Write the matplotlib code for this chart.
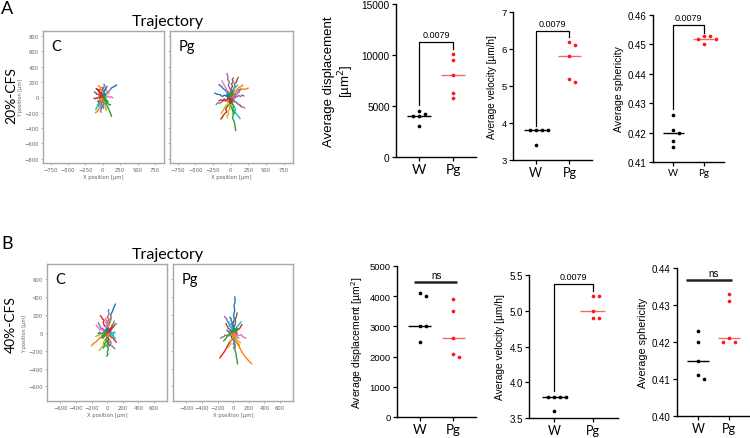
import numpy as np
import matplotlib
matplotlib.use('Agg')
import matplotlib.pyplot as plt

# ---------------- data ----------------
groups = ['W', 'Pg']

# Row A (20%-CFS)
A_disp_W = [4500, 4250, 4000, 4000, 3000]
A_disp_Pg = [10100, 9500, 8000, 6300, 5750]
A_vel_W = [3.8, 3.8, 3.8, 3.8, 3.4]
A_vel_Pg = [6.2, 6.1, 5.8, 5.2, 5.1]
A_sph_W = [0.426, 0.421, 0.420, 0.417, 0.415]
A_sph_Pg = [0.453, 0.453, 0.452, 0.452, 0.450]

# Row B (40%-CFS)
B_disp_W = [4100, 4000, 3000, 3000, 2500]
B_disp_Pg = [3900, 3500, 2600, 2100, 2000]
B_vel_W = [3.8, 3.8, 3.8, 3.8, 3.6]
B_vel_Pg = [5.2, 5.2, 5.0, 4.9, 4.9]
B_sph_W = [0.423, 0.420, 0.415, 0.411, 0.410]
B_sph_Pg = [0.433, 0.431, 0.421, 0.420, 0.420]

p_text = ['0.0079', '0.0079', '0.0079', 'ns', '0.0079', 'ns']

# trajectories (x list, y list) in µm
traj_A_C = [
    ([0, 20, 10, 45, 60, 95, 120, 160, 195], [0, -15, 20, 35, 70, 85, 120, 140, 160]),
    ([0, -20, 5, -25, -40, -30, -60, -80, -105], [0, -25, -50, -70, -105, -130, -150, -185, -200]),
    ([0, 25, 15, 45, 60, 80, 95, 110, 125], [0, -20, -55, -80, -110, -140, -175, -210, -245]),
    ([0, -25, -10, -40, -55, -45, -70, -90, -95], [0, 15, 40, 50, 75, 95, 100, 115, 110]),
    ([0, 15, -5, 10, 25, 5, 20, 30, 15], [0, 25, 50, 70, 100, 120, 140, 155, 170]),
    ([0, -25, -15, -45, -60, -75, -90, -110, -125], [0, 10, -15, -5, 5, -15, -5, -20, -10]),
    ([0, 30, 45, 35, 60, 80, 100, 125, 140], [0, -10, 10, 25, 5, 15, -5, 10, -5]),
    ([0, -15, 5, -20, -10, -30, -15, -35, -25], [0, -30, -55, -80, -105, -125, -145, -170, -190]),
    ([0, 20, 5, 30, 20, 45, 35, 55, 45], [0, -25, -45, -60, -90, -110, -135, -150, -170]),
    ([0, -20, -35, -25, -55, -70, -60, -90, -100], [0, -20, -35, -60, -70, -95, -115, -130, -160]),
    ([0, -10, 15, 25, 10, 35, 50, 40, 60], [0, 20, 35, 55, 75, 90, 105, 125, 140]),
    ([0, 15, -10, -25, -15, -40, -30, -50, -60], [0, 25, 40, 60, 85, 100, 125, 140, 150]),
    ([0, 25, 20, 45, 60, 55, 80, 95, 110], [0, -20, -40, -35, -60, -80, -85, -100, -95]),
    ([0, -20, -5, -30, -45, -35, -55, -70, -60], [0, 15, -10, -25, -15, -40, -55, -45, -65]),
    ([0, 15, -10, 5, 20, 0, 15, -5, 10], [0, -25, -40, -65, -80, -100, -115, -125, -140]),
    ([0, -25, -40, -35, -60, -75, -90, -100, -120], [0, 15, 30, 10, 35, 45, 40, 60, 70]),
    ([0, 20, 40, 35, 55, 75, 90, 100, 115], [0, 25, 20, 45, 60, 55, 75, 90, 105]),
    ([0, -15, 10, -5, 15, 0, -15, 5, -10], [0, 20, 35, 55, 70, 90, 100, 115, 130]),
    ([0, 25, 10, 35, 45, 30, 55, 70, 85], [0, -15, 15, 25, 10, 35, 45, 40, 55]),
    ([0, -25, -15, -40, -30, -55, -50, -70, -80], [0, -15, -35, -45, -65, -75, -95, -105, -100]),
    ([0, 15, -5, 20, 5, 30, 15, 35, 30], [0, -10, 10, 25, 0, 20, 40, 25, 45]),
    ([0, -15, 5, -10, -30, -20, -40, -25, -45], [0, -20, -5, -30, -15, -40, -25, -50, -40]),
    ([0, 20, 35, 15, 40, 55, 40, 65, 75], [0, 15, -5, -25, -15, -35, -55, -45, -60]),
    ([0, -20, -10, -35, -20, -45, -60, -50, -70], [0, 10, 35, 45, 65, 60, 80, 95, 90]),
]

traj_A_Pg = [
    ([0, -30, -20, -60, -90, -120, -150, -190, -225], [0, 20, -10, 15, 30, 10, 35, 40, 55]),
    ([0, 35, 25, 65, 90, 130, 160, 200, 245], [0, 15, 45, 55, 80, 90, 110, 105, 120]),
    ([0, 15, -5, 20, 35, 25, 50, 60, 70], [0, -50, -100, -150, -210, -270, -320, -380, -430]),
    ([0, -25, -10, -45, -70, -60, -95, -120, -140], [0, -40, -80, -110, -150, -190, -220, -260, -280]),
    ([0, -20, 5, -15, -35, -20, -45, -40, -55], [0, 40, 80, 120, 160, 200, 235, 270, 310]),
    ([0, 25, 15, 40, 60, 50, 80, 90, 105], [0, 35, 70, 110, 140, 175, 200, 235, 260]),
    ([0, 40, 30, 70, 100, 130, 150, 175, 200], [0, -25, -50, -60, -85, -95, -120, -125, -140]),
    ([0, -40, -25, -70, -100, -130, -150, -180, -205], [0, -15, -40, -50, -35, -60, -75, -70, -90]),
    ([0, -20, 5, -25, -10, -40, -30, -55, -45], [0, -35, -75, -110, -150, -185, -215, -240, -265]),
    ([0, 30, 15, 45, 65, 55, 85, 110, 130], [0, -40, -80, -120, -155, -190, -220, -250, -275]),
    ([0, -35, -20, -55, -85, -110, -125, -145, -165], [0, 25, 55, 70, 100, 115, 135, 150, 165]),
    ([0, 25, 45, 35, 70, 100, 120, 150, 170], [0, 35, 50, 75, 90, 115, 130, 145, 160]),
    ([0, 25, 5, 30, 45, 20, 40, 55, 50], [0, -30, -55, -90, -120, -140, -170, -190, -210]),
    ([0, -25, -45, -35, -70, -95, -110, -140, -165], [0, -20, 5, -15, -35, -20, -45, -30, -45]),
    ([0, 35, 60, 50, 85, 115, 140, 160, 185], [0, 15, -10, 20, 5, 25, 10, 30, 20]),
    ([0, -15, 15, 0, 25, 10, 35, 20, 35], [0, 35, 70, 110, 140, 175, 205, 230, 250]),
    ([0, -30, -20, -55, -70, -90, -100, -115, -125], [0, 35, 65, 90, 125, 150, 175, 195, 215]),
    ([0, 25, 50, 40, 75, 100, 115, 135, 155], [0, -20, -35, -55, -60, -85, -95, -110, -125]),
    ([0, -20, -45, -35, -65, -90, -100, -120, -135], [0, -30, -55, -85, -105, -135, -160, -185, -210]),
    ([0, 15, -5, 25, 45, 35, 60, 75, 95], [0, 25, 50, 65, 90, 110, 125, 140, 155]),
    ([0, -25, -5, -35, -15, -45, -30, -60, -50], [0, -20, 15, 0, 30, 10, 40, 20, 50]),
    ([0, 25, 5, 35, 15, 45, 30, 60, 55], [0, -25, 5, -15, 20, -5, 25, 5, 35]),
    ([0, -20, 10, -10, 20, -5, 25, 10, 35], [0, 30, 10, 45, 25, 60, 40, 75, 55]),
    ([0, 20, -10, 15, -15, 10, -20, 5, -25], [0, -30, -10, -45, -25, -60, -40, -75, -55]),
    ([0, 30, 60, 45, 80, 95, 120, 110, 140], [0, -10, 15, 40, 30, 55, 70, 95, 110]),
]

traj_B_C = [
    ([0, 20, 5, 35, 50, 45, 70, 85, 105], [0, 40, 80, 115, 160, 200, 245, 285, 320]),
    ([0, -30, -55, -50, -90, -120, -140, -175, -200], [0, -20, 5, -30, -55, -80, -100, -120, -145]),
    ([0, 15, -10, 5, -5, 15, 0, 10, -5], [0, -35, -70, -110, -145, -180, -215, -240, -260]),
    ([0, -20, -5, -35, -50, -40, -65, -75, -85], [0, 25, 55, 80, 110, 140, 160, 180, 190]),
    ([0, -15, 10, -5, 20, 5, 25, 15, 20], [0, 35, 70, 110, 145, 180, 215, 240, 255]),
    ([0, 30, 20, 50, 70, 65, 90, 100, 115], [0, 20, 45, 40, 65, 80, 75, 95, 100]),
    ([0, -25, -45, -40, -70, -95, -110, -125, -140], [0, 15, -5, 25, 35, 30, 55, 70, 85]),
    ([0, 20, 5, 35, 50, 40, 65, 80, 95], [0, -30, -55, -85, -110, -135, -150, -165, -175]),
    ([0, -20, -5, -35, -50, -45, -70, -85, -100], [0, -30, -60, -85, -115, -140, -160, -180, -195]),
    ([0, 25, 15, 40, 60, 55, 75, 90, 100], [0, 15, -10, 5, -15, 5, -10, 10, 0]),
    ([0, -25, -15, -45, -60, -55, -80, -95, -115], [0, -15, 10, -5, -20, 0, -15, 5, -10]),
    ([0, 15, -5, 25, 15, 40, 30, 50, 45], [0, 30, 55, 80, 110, 130, 150, 165, 180]),
    ([0, -15, 5, -20, -10, -35, -25, -45, -50], [0, -25, -50, -75, -100, -120, -145, -160, -170]),
    ([0, 25, 40, 35, 60, 75, 85, 100, 115], [0, -20, -10, -35, -55, -50, -75, -90, -105]),
    ([0, -25, -40, -35, -60, -75, -90, -100, -115], [0, 20, 5, 30, 50, 45, 70, 90, 110]),
    ([0, 15, 0, 20, 5, 25, 10, 30, 20], [0, -25, -45, -70, -90, -110, -125, -140, -150]),
    ([0, -15, 5, -15, 0, -20, -5, -25, -15], [0, 25, 50, 70, 95, 115, 135, 150, 165]),
    ([0, 20, 40, 30, 55, 70, 60, 80, 90], [0, 25, 10, 40, 60, 55, 85, 105, 130]),
    ([0, -30, -20, -50, -70, -90, -110, -125, -145], [0, -15, 10, -10, -25, -15, -35, -30, -40]),
    ([0, 25, 45, 40, 65, 80, 75, 95, 105], [0, -10, 10, -15, -30, -20, -45, -50, -65]),
    ([0, -20, 5, -15, 10, -10, 15, -5, 20], [0, 20, 0, 30, 10, 40, 20, 50, 35]),
    ([0, 20, -5, 15, -10, 10, -15, 5, -20], [0, -20, 5, -25, 0, -35, -10, -45, -20]),
    ([0, -15, -35, -20, -45, -35, -60, -50, -70], [0, -20, 0, -30, -15, -45, -30, -60, -55]),
    ([0, 15, 35, 25, 50, 40, 60, 55, 75], [0, 20, 5, 35, 25, 50, 40, 65, 60]),
]

traj_B_Pg = [
    ([0, 10, -5, 15, 5, 20, 10, 25, 20], [0, 50, 100, 150, 200, 250, 300, 350, 400]),
    ([0, 30, 20, 60, 90, 120, 155, 195, 235], [0, -40, -85, -130, -180, -225, -270, -310, -345]),
    ([0, 15, 5, 25, 20, 35, 40, 50, 55], [0, -45, -90, -135, -185, -230, -270, -310, -345]),
    ([0, -25, -15, -50, -75, -95, -120, -150, -170], [0, -35, -70, -110, -150, -185, -220, -255, -280]),
    ([0, -20, -10, -40, -55, -70, -80, -95, -110], [0, 25, 50, 70, 100, 120, 145, 165, 180]),
    ([0, 15, 5, 25, 30, 25, 40, 45, 50], [0, 30, 60, 90, 120, 150, 175, 200, 220]),
    ([0, 30, 50, 45, 80, 105, 120, 145, 160], [0, -15, 5, -20, -30, -20, -45, -50, -60]),
    ([0, -30, -50, -45, -80, -105, -120, -145, -160], [0, 15, -5, -15, -30, -25, -45, -50, -60]),
    ([0, -15, 5, -20, -35, -30, -50, -60, -75], [0, -25, -50, -75, -100, -125, -145, -160, -170]),
    ([0, 20, 10, 35, 50, 70, 75, 90, 100], [0, 20, 40, 45, 70, 85, 95, 110, 120]),
    ([0, -10, 10, -5, -20, -10, -30, -25, -40], [0, 20, 45, 70, 95, 115, 140, 155, 170]),
    ([0, 20, 5, 30, 45, 40, 60, 70, 80], [0, -20, -45, -65, -85, -105, -120, -130, -140]),
    ([0, -25, -40, -35, -60, -80, -90, -105, -120], [0, -10, 10, -20, -35, -40, -60, -75, -90]),
    ([0, 25, 40, 35, 60, 80, 90, 100, 110], [0, 10, -10, 20, 35, 45, 60, 75, 90]),
    ([0, -10, 10, -5, 15, 0, 20, 5, 15], [0, -25, -50, -75, -100, -125, -145, -165, -180]),
    ([0, -20, -35, -30, -50, -65, -70, -85, -90], [0, 15, 0, 25, 45, 50, 70, 85, 100]),
    ([0, 15, 30, 20, 40, 55, 50, 65, 70], [0, -15, 5, -20, -35, -30, -50, -55, -60]),
    ([0, -15, -30, -20, -45, -55, -65, -75, -80], [0, -15, 5, -10, 15, 5, 25, 20, 30]),
    ([0, 15, 5, 30, 45, 40, 60, 75, 90], [0, -20, -40, -50, -70, -85, -90, -100, -110]),
    ([0, -10, -25, -15, -35, -45, -40, -55, -55], [0, 20, 35, 55, 70, 85, 100, 110, 120]),
    ([0, 20, -5, 15, -10, 10, -15, 5, -20], [0, 15, -10, 20, -5, 25, 0, 30, 10]),
    ([0, -20, 5, -15, 10, -10, 15, -5, 15], [0, -20, 5, -25, 0, -30, -5, -35, -15]),
    ([0, 15, 35, 20, 45, 30, 55, 40, 60], [0, 25, 10, 35, 20, 45, 30, 55, 45]),
]

# ---------------- figure ----------------
W_PX, H_PX = 750, 439
fig = plt.figure(figsize=(7.5, 4.39), dpi=100)

NUM_FONT = 'Liberation Sans'
TXT_FONT = 'Lato'
RED = '#ff1a1a'
RED_LINE = '#f26b6b'


def add_ax(l, t, r, b):
    return fig.add_axes([l / W_PX, 1 - b / H_PX, (r - l) / W_PX, (b - t) / H_PX])


def traj_panel(l, t, r, b, tracks, lim, xticks, yticks, label, ylabels):
    ax = add_ax(l, t, r, b)
    colors = plt.rcParams['axes.prop_cycle'].by_key()['color']
    for i, (xs, ys) in enumerate(tracks):
        ax.plot(xs, ys, color=colors[i % len(colors)], lw=1.0)
    ax.set_xlim(lim[0], lim[1])
    ax.set_ylim(lim[2], lim[3])
    ax.set_xticks(xticks)
    ax.set_yticks(yticks)
    ax.tick_params(labelsize=3.8, labelcolor='#666666', length=1.5,
                   width=0.5, color='#999999', pad=1.5)
    if not ylabels:
        ax.set_yticklabels([])
    else:
        ax.set_ylabel('Y position [µm]', fontsize=3.6, color='#666666', labelpad=1)
    ax.set_xlabel('X position [µm]', fontsize=3.8, color='#666666', labelpad=1)
    for s in ax.spines.values():
        s.set_color('#a8a8a8')
        s.set_linewidth(1.0)
    ax.text(0.07, 0.94, label, transform=ax.transAxes, fontsize=10.5,
            family=TXT_FONT, va='top', ha='left')
    return ax


def swarm_offsets(vals, y_ppu, x_ppu, d=5.0):
    placed = []
    offs = []
    for v in vals:
        yp = v * y_ppu
        xp = 0.0
        for k in [0, 1, -1, 2, -2, 3, -3, 4, -4]:
            xp = k * d * 0.6
            if all((xp - px) ** 2 + (yp - py) ** 2 >= d * d for px, py in placed):
                break
        placed.append((xp, yp))
        offs.append(xp / x_ppu)
    return offs


def dot_panel(l, t, r, b, wv, pv, ylim, yticks, yfmt, ylabel, ylab_size,
              tick_size, x_size, bracket, labelpad):
    ax = add_ax(l, t, r, b)
    xlim = (-0.67, 1.67)
    ax.set_xlim(*xlim)
    ax.set_ylim(*ylim)
    y_ppu = (b - t) / (ylim[1] - ylim[0])
    x_ppu = (r - l) / (xlim[1] - xlim[0])
    for gi, (vals, col, lcol) in enumerate([(wv, 'black', 'black'), (pv, RED, RED_LINE)]):
        offs = swarm_offsets(vals, y_ppu, x_ppu)
        med = float(np.median(vals))
        ax.plot([gi - 0.34, gi + 0.34], [med, med], color=lcol, lw=1.0, zorder=2,
                solid_capstyle='butt')
        ax.scatter(np.array(offs) + gi, vals, s=7, color=col, zorder=3, linewidths=0)
    ax.set_xticks([0, 1])
    ax.set_xticklabels(groups, fontsize=x_size, family=TXT_FONT)
    ax.set_yticks(yticks)
    ax.set_yticklabels([yfmt.format(v) for v in yticks], fontsize=tick_size,
                       family=NUM_FONT)
    ax.tick_params(length=3, width=0.9, pad=1.5)
    ax.set_ylabel(ylabel, fontsize=ylab_size, family=NUM_FONT, labelpad=labelpad,
                  linespacing=1.1)
    for s in ['top', 'right']:
        ax.spines[s].set_visible(False)
    for s in ['left', 'bottom']:
        ax.spines[s].set_linewidth(1.0)
    kind = bracket[0]
    if kind == 'p':
        _, h, lb, rb, txt = bracket
        ax.plot([0, 0, 1, 1], [lb, h, h, rb], color='black', lw=0.9, clip_on=False)
        ax.text(0.5, h + (ylim[1] - ylim[0]) * 0.02, txt, ha='center', va='bottom',
                fontsize=6.5, family=NUM_FONT, clip_on=False)
    else:
        _, h, x0, x1, txt = bracket
        ax.plot([x0, x1], [h, h], color='#222222', lw=1.8, clip_on=False,
                solid_capstyle='butt')
        ax.text(0.5, h + (ylim[1] - ylim[0]) * 0.012, txt, ha='center', va='bottom',
                fontsize=7, family=NUM_FONT, clip_on=False)
    return ax


# ---- row A ----
limA = (-860, 880, -855, 865)
xticksA = [-750, -500, -250, 0, 250, 500, 750]
yticksA = [-800, -600, -400, -200, 0, 200, 400, 600, 800]
traj_panel(43, 32, 164, 164, traj_A_C, limA, xticksA, yticksA, 'C', True)
traj_panel(170, 32, 293, 164, traj_A_Pg, limA, xticksA, yticksA, 'Pg', False)

dot_panel(396, 5, 476, 158, A_disp_W, A_disp_Pg, (0, 15000), [0, 5000, 10000, 15000],
          '{:.0f}', 'Average displacement\n[µm$^2$]', 9.5, 7.3, 10,
          ('p', 11300, 5100, 10600, p_text[0]), 4)
dot_panel(513, 13, 592, 161, A_vel_W, A_vel_Pg, (3, 7), [3, 4, 5, 6, 7],
          '{:.0f}', 'Average velocity [µm/h]', 7.2, 6.8, 9,
          ('p', 6.5, 3.93, 6.33, p_text[1]), 3)
dot_panel(653, 16, 724, 163, A_sph_W, A_sph_Pg, (0.41, 0.46),
          [0.41, 0.42, 0.43, 0.44, 0.45, 0.46], '{:.2f}', 'Average sphericity', 7.5, 7, 7,
          ('p', 0.4566, 0.428, 0.454, p_text[2]), 3)

# ---- row B ----
limB = (-770, 765, -762, 768)
ticksB = [-600, -400, -200, 0, 200, 400, 600]
traj_panel(47, 265, 167, 402, traj_B_C, limB, ticksB, ticksB, 'C', True)
traj_panel(173, 265, 293, 402, traj_B_Pg, limB, ticksB, ticksB, 'Pg', False)

dot_panel(397, 267, 476, 418, B_disp_W, B_disp_Pg, (0, 5000),
          [0, 1000, 2000, 3000, 4000, 5000], '{:.0f}', 'Average displacement [µm$^2$]',
          7.5, 6.8, 9.5, ('n', 4480, -0.18, 1.1, p_text[3]), 3)
dot_panel(529, 276, 618, 419, B_vel_W, B_vel_Pg, (3.5, 5.5),
          [3.5, 4.0, 4.5, 5.0, 5.5], '{:.1f}', 'Average velocity [µm/h]', 7.3, 7, 9,
          ('p', 5.37, 3.88, 5.28, p_text[4]), 3)
dot_panel(677, 269, 750, 417, B_sph_W, B_sph_Pg, (0.40, 0.44),
          [0.40, 0.41, 0.42, 0.43, 0.44], '{:.2f}', 'Average sphericity', 7.8, 7, 9,
          ('n', 0.4368, -0.38, 1.09, p_text[5]), 3)

# ---- free text ----
def ftxt(x, y, s, **kw):
    fig.text(x / W_PX, 1 - y / H_PX, s, **kw)

ftxt(7, 9, 'A', fontsize=13, family=TXT_FONT, ha='center', va='center')
ftxt(7, 244, 'B', fontsize=13, family=TXT_FONT, ha='center', va='center')
ftxt(168, 22, 'Trajectory', fontsize=11.5, family=TXT_FONT, ha='center', va='center')
ftxt(168, 255, 'Trajectory', fontsize=11.5, family=TXT_FONT, ha='center', va='center')
ftxt(11, 96, '20%-CFS', fontsize=10, family=TXT_FONT, ha='center', va='center',
     rotation=90)
ftxt(11, 325, '40%-CFS', fontsize=10, family=TXT_FONT, ha='center', va='center',
     rotation=90)

fig.savefig('out.png', dpi=100)
